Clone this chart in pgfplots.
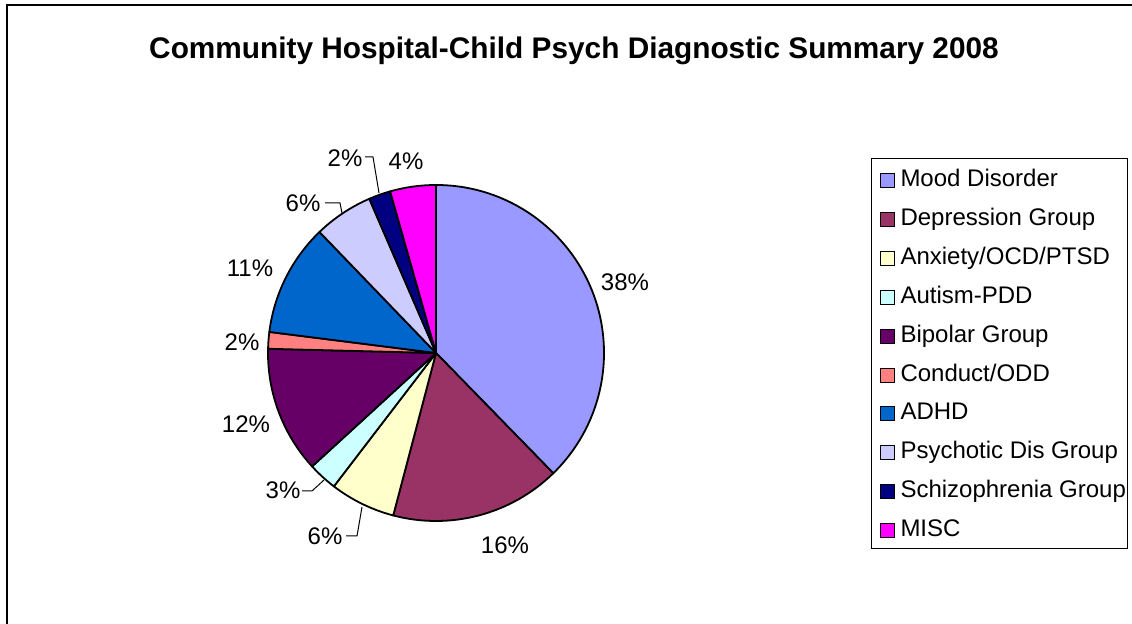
\documentclass[border=0pt]{standalone}
\usepackage{pgfplots}
\pgfplotsset{compat=1.18}
\usepackage{pgfplotstable}
\usepackage{fontspec}
\setmainfont{Liberation Sans}

\definecolor{cMood}{HTML}{9999FF}
\definecolor{cDep}{HTML}{993366}
\definecolor{cAnx}{HTML}{FFFFCC}
\definecolor{cAut}{HTML}{CCFFFF}
\definecolor{cBip}{HTML}{660066}
\definecolor{cCond}{HTML}{FF8080}
\definecolor{cADHD}{HTML}{0066CC}
\definecolor{cPsych}{HTML}{CCCCFF}
\definecolor{cSchiz}{HTML}{000080}
\definecolor{cMISC}{HTML}{FF00FF}

% share of each diagnosis (percent), clockwise from 12 o'clock
\pgfplotstableread{
name pct col
Mood 37.7 cMood
Dep 16.4 cDep
Anx 6.3 cAnx
Aut 2.8 cAut
Bip 12.2 cBip
Cond 1.6 cCond
ADHD 10.8 cADHD
Psych 5.7 cPsych
Schiz 2.1 cSchiz
MISC 4.4 cMISC
}\piedata

\begin{document}
\begin{tikzpicture}
\begin{axis}[
  scale only axis, width=566pt, height=312pt,
  xmin=0, xmax=1132, ymin=0, ymax=624,
  hide axis, clip=false,
  legend cell align=left,
  legend image code/.code={\path (0pt,0pt) (13pt,0pt);
    \draw[#1, line width=0.5pt] (3.5pt,-4.5pt) rectangle (10.5pt,2.5pt);},
  legend style={at={(871/1132,466/624)}, anchor=north west,
    draw=black, line width=0.5pt,
    font=\fontsize{12}{14}\selectfont,
    inner xsep=0.5pt, inner ysep=4pt, row sep=7.45pt,
    nodes={inner xsep=0.5pt, inner ysep=0pt, text height=10pt, text depth=2pt}},
]
\pgfplotsextra{
  \gdef\startang{90}
  \foreach \i in {0,...,9}{
    \pgfplotstablegetelem{\i}{pct}\of\piedata \let\slicepct\pgfplotsretval
    \pgfplotstablegetelem{\i}{col}\of\piedata \let\slicecol\pgfplotsretval
    \pgfmathsetmacro\endang{\startang-3.6*\slicepct}
    \filldraw[fill=\slicecol, draw=black, line width=0.9pt, line join=round]
      (axis cs:436,271) -- ++(\startang:84pt)
      arc[start angle=\startang, end angle=\endang, radius=84pt] -- cycle;
    \xdef\startang{\endang}
  }
  % frame
  \draw[line width=1pt, black] (axis cs:7,0) -- (axis cs:7,619) -- (axis cs:1132,619);
  % title
  \node[font=\fontsize{14.9}{17}\selectfont\bfseries] at (axis cs:574,573)
    {Community Hospital-Child Psych Diagnostic Summary 2008};
  % leader lines
  \draw[line width=0.5pt] (axis cs:346,88) -- (axis cs:357,88) -- (axis cs:362,117);
  \draw[line width=0.5pt] (axis cs:302,133) -- (axis cs:312,133) -- (axis cs:324,144);
  \draw[line width=0.5pt] (axis cs:325,421) -- (axis cs:340,421) -- (axis cs:342,411);
  \draw[line width=0.5pt] (axis cs:365,467) -- (axis cs:373,467) -- (axis cs:379,431);
  % percentage labels
  \begin{scope}[every node/.style={font=\fontsize{12}{14}\selectfont, inner sep=0pt}]
    \node at (axis cs:625,342) {38\%};
    \node at (axis cs:505,79) {16\%};
    \node at (axis cs:325,88) {6\%};
    \node at (axis cs:283,134) {3\%};
    \node at (axis cs:246,200) {12\%};
    \node at (axis cs:242,282) {2\%};
    \node at (axis cs:250,356) {11\%};
    \node at (axis cs:303,421) {6\%};
    \node at (axis cs:345,466) {2\%};
    \node at (axis cs:406,463) {4\%};
  \end{scope}
}
\addlegendimage{fill=cMood, draw=black}\addlegendentry{Mood Disorder}
\addlegendimage{fill=cDep, draw=black}\addlegendentry{Depression Group}
\addlegendimage{fill=cAnx, draw=black}\addlegendentry{Anxiety/OCD/PTSD}
\addlegendimage{fill=cAut, draw=black}\addlegendentry{Autism-PDD}
\addlegendimage{fill=cBip, draw=black}\addlegendentry{Bipolar Group}
\addlegendimage{fill=cCond, draw=black}\addlegendentry{Conduct/ODD}
\addlegendimage{fill=cADHD, draw=black}\addlegendentry{ADHD}
\addlegendimage{fill=cPsych, draw=black}\addlegendentry{Psychotic Dis Group}
\addlegendimage{fill=cSchiz, draw=black}\addlegendentry{Schizophrenia Group}
\addlegendimage{fill=cMISC, draw=black}\addlegendentry{MISC}
\end{axis}
\pgfresetboundingbox
\path (current axis.south west) rectangle (current axis.north east);
\end{tikzpicture}
\end{document}
